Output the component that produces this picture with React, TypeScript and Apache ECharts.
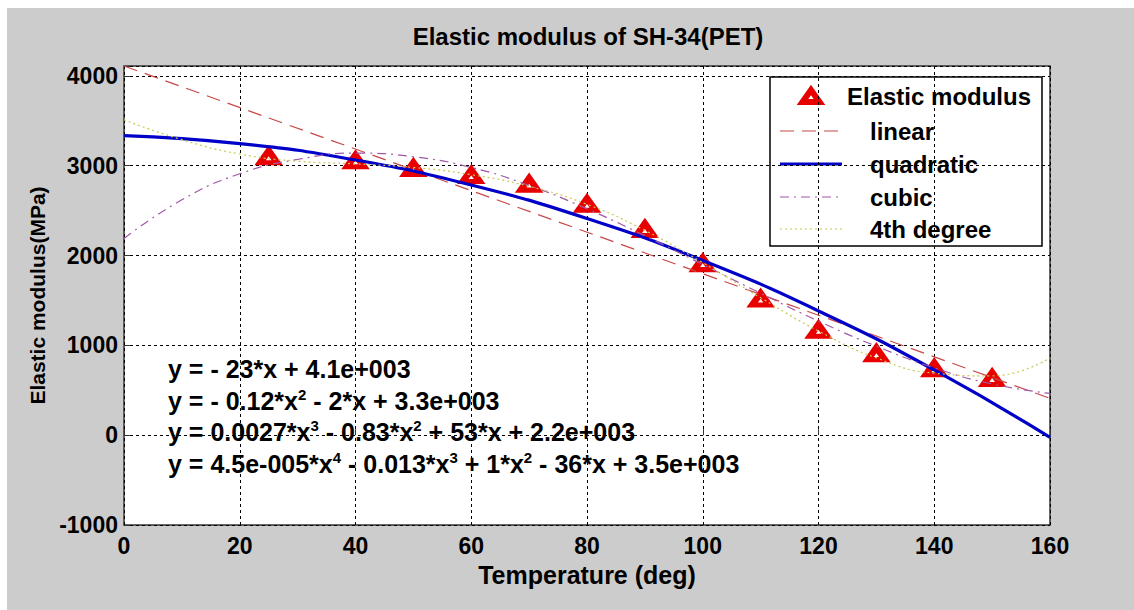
import React, { useEffect, useRef } from "react";
import * as echarts from "echarts";

// ---- data ----
const tempX = [25, 40, 50, 60, 70, 80, 90, 100, 110, 120, 130, 140, 150];
const modulus = [3100, 3055, 2970, 2890, 2795, 2570, 2290, 1910, 1515, 1168, 908, 740, 632];

const linearX = [0, 160];
const linearY = [4110, 410];

const quadX = [0, 20, 40, 60, 80, 100, 120, 140, 160];
const quadY = [3335, 3246, 3063, 2785, 2412, 1945, 1383, 726, -25];

const polyX = [0, 10, 20, 30, 40, 50, 60, 70, 80, 90, 100, 110, 120, 130, 140, 150, 160];
const cubicY = [2190, 2620, 2910, 3070, 3140, 3100, 2980, 2780, 2520, 2220, 1900, 1580, 1270, 990, 750, 570, 465];
const quarticY = [3510, 3290, 3130, 3050, 3020, 2980, 2900, 2770, 2570, 2280, 1920, 1530, 1160, 860, 690, 660, 860];

const xTicks = [0, 160, 20]; // min, max, interval
const yTicks = [-1000, 4110, 1000];

const legendNames = ["Elastic modulus", "linear", "quadratic", "cubic", "4th degree"];
const equations = [
  "{n|y = - 23*x + 4.1e+003}",
  "{n|y = - 0.12*x}{s|2}{n| - 2*x + 3.3e+003}",
  "{n|y = 0.0027*x}{s|3}{n| - 0.83*x}{s|2}{n| + 53*x + 2.2e+003}",
  "{n|y = 4.5e-005*x}{s|4}{n| - 0.013*x}{s|3}{n| + 1*x}{s|2}{n| - 36*x + 3.5e+003}",
];

const FONT = '"Liberation Sans", Arial, Helvetica, sans-serif';
const COL_RED = "#e80000";
const COL_LIN = "#c84848";
const COL_QUAD = "#0000c8";
const COL_CUB = "#a058a8";
const COL_QUAR = "#c8c850";

const pairs = (xs: number[], ys: number[]) => xs.map((x, i) => [x, ys[i]]);

export default function App() {
  const ref = useRef<HTMLDivElement>(null);
  useEffect(() => {
    if (!ref.current) return;
    const chart = echarts.init(ref.current, undefined, { renderer: "svg" });
    const textStyleBase = { fontFamily: FONT, fontWeight: "bold" as const, color: "#000" };

    const eqY = [360, 392, 423, 455];
    const legRows = [88, 123, 156, 189, 221];

    chart.setOption({
      animation: false,
      backgroundColor: "#cccccc",
      title: {
        text: "Elastic modulus of SH-34(PET)",
        left: 576,
        top: 11,
        textAlign: "center",
        textStyle: { ...textStyleBase, fontSize: 24 },
      },
      grid: {
        left: 117,
        right: 84,
        top: 58,
        bottom: 85,
        show: true,
        backgroundColor: "#ffffff",
        borderColor: "#333333",
        borderWidth: 1.5,
        containLabel: false,
      },
      xAxis: {
        type: "value",
        min: xTicks[0],
        max: xTicks[1],
        interval: xTicks[2],
        name: "Temperature (deg)",
        nameLocation: "middle",
        nameGap: 37,
        nameTextStyle: { ...textStyleBase, fontSize: 25 },
        axisLine: { show: false },
        axisTick: { show: true, inside: true, length: 6, lineStyle: { color: "#333" } },
        axisLabel: { ...textStyleBase, fontSize: 23, margin: 9 },
        splitLine: { show: true, lineStyle: { color: "#000", type: [3, 3], width: 1 } },
      },
      yAxis: {
        type: "value",
        min: yTicks[0],
        max: yTicks[1],
        interval: yTicks[2],
        name: "Elastic modulus(MPa)",
        nameLocation: "middle",
        nameGap: 72,
        nameTextStyle: { ...textStyleBase, fontSize: 21 },
        axisLine: { show: false },
        axisTick: { show: true, inside: true, length: 6, lineStyle: { color: "#333" } },
        axisLabel: {
          ...textStyleBase,
          fontSize: 23,
          margin: 6,
          formatter: (v: number) => (v % 1000 === 0 ? String(v) : ""),
        },
        splitLine: { show: true, lineStyle: { color: "#000", type: [3, 3], width: 1 } },
      },
      series: [
        {
          name: legendNames[0],
          type: "scatter",
          data: pairs(tempX, modulus),
          symbol: "triangle",
          symbolSize: [17, 12],
          itemStyle: { color: "#ffffff", borderColor: COL_RED, borderWidth: 6, opacity: 1 },
          z: 2,
        },
        {
          name: legendNames[1],
          type: "line",
          data: pairs(linearX, linearY),
          showSymbol: false,
          symbol: "none",
          lineStyle: { color: COL_LIN, width: 1.2, type: [14, 8] },
          z: 3,
        },
        {
          name: legendNames[2],
          type: "line",
          data: pairs(quadX, quadY),
          smooth: true,
          symbol: "none",
          lineStyle: { color: COL_QUAD, width: 3.2 },
          z: 3,
        },
        {
          name: legendNames[3],
          type: "line",
          data: pairs(polyX, cubicY),
          smooth: true,
          symbol: "none",
          lineStyle: { color: COL_CUB, width: 1.2, type: [9, 5, 2, 5] },
          z: 3,
        },
        {
          name: legendNames[4],
          type: "line",
          data: pairs(polyX, quarticY),
          smooth: true,
          symbol: "none",
          lineStyle: { color: COL_QUAR, width: 1.2, type: [2, 3] },
          z: 3,
        },
      ],
      graphic: [
        ...equations.map((t, i) => ({
          type: "text",
          x: 161,
          y: eqY[i],
          z: 10,
          style: {
            text: t,
            fill: "#000",
            verticalAlign: "middle",
            rich: {
              n: {
                fontFamily: FONT,
                fontWeight: "bold",
                fontSize: 25,
                lineHeight: 26,
                verticalAlign: "bottom",
                fill: "#000",
              },
              s: {
                fontFamily: FONT,
                fontWeight: "bold",
                fontSize: 15,
                lineHeight: 16,
                verticalAlign: "top",
                fill: "#000",
              },
            },
          },
        })),
        {
          type: "group",
          z: 20,
          children: [
            {
              type: "rect",
              shape: { x: 763, y: 69, width: 272, height: 169 },
              style: { fill: "#ffffff", stroke: "#000", lineWidth: 1.5 },
            },
            {
              type: "polygon",
              shape: { points: [[804, legRows[0] - 6], [812.5, legRows[0] + 6], [795.5, legRows[0] + 6]] },
              style: { fill: "#ffffff", stroke: COL_RED, lineWidth: 6 },
            },
            {
              type: "text",
              x: 840,
              y: legRows[0],
              style: { text: legendNames[0], font: `bold 24px ${FONT}`, fill: "#000", verticalAlign: "middle" },
            },
            {
              type: "line",
              shape: { x1: 773, y1: legRows[1], x2: 835, y2: legRows[1] },
              style: { stroke: COL_LIN, lineWidth: 1.2, lineDash: [14, 8] },
            },
            {
              type: "line",
              shape: { x1: 773, y1: legRows[2], x2: 835, y2: legRows[2] },
              style: { stroke: COL_QUAD, lineWidth: 3.2 },
            },
            {
              type: "line",
              shape: { x1: 773, y1: legRows[3], x2: 835, y2: legRows[3] },
              style: { stroke: COL_CUB, lineWidth: 1.2, lineDash: [9, 5, 2, 5] },
            },
            {
              type: "line",
              shape: { x1: 773, y1: legRows[4], x2: 835, y2: legRows[4] },
              style: { stroke: COL_QUAR, lineWidth: 1.2, lineDash: [2, 3] },
            },
            ...[1, 2, 3, 4].map((k) => ({
              type: "text",
              x: 863,
              y: legRows[k],
              style: { text: legendNames[k], font: `bold 24px ${FONT}`, fill: "#000", verticalAlign: "middle" },
            })),
          ],
        },
      ],
    });
    return () => chart.dispose();
  }, []);

  return (
    <div
      ref={ref}
      style={{ position: "fixed", left: 7, top: 8, width: 1127, height: 602 }}
    />
  );
}
